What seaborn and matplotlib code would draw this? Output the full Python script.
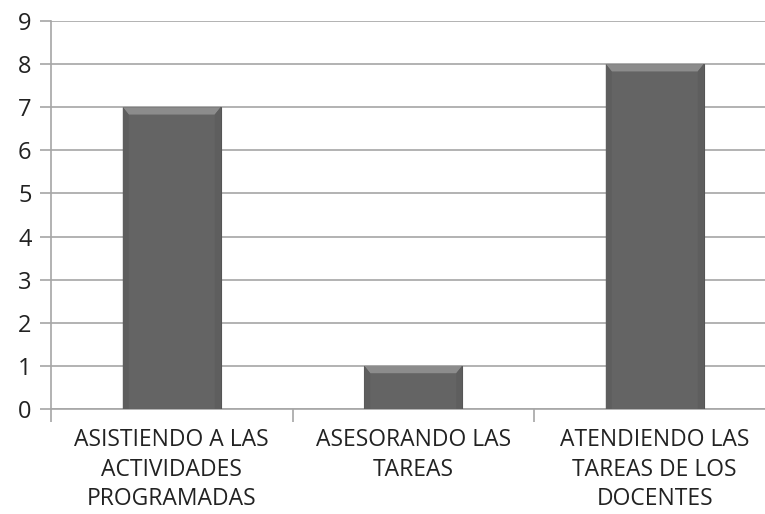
import matplotlib
matplotlib.use("Agg")
import matplotlib.pyplot as plt
import seaborn as sns
import pandas as pd
from matplotlib.patches import Polygon

categories = ["ASISTIENDO A LAS\nACTIVIDADES\nPROGRAMADAS",
              "ASESORANDO LAS\nTAREAS",
              "ATENDIENDO LAS\nTAREAS DE LOS\nDOCENTES"]
values = [7, 1, 8]
yticks = list(range(0, 10))

sns.set_theme(style="white")
plt.rcParams['font.family'] = ['Open Sans', 'DejaVu Sans']

df = pd.DataFrame({"cat": categories, "val": values})

fig = plt.figure(figsize=(7.65, 5.14), dpi=100)
ax = fig.add_axes([51/765, 105/514, 724.5/765, 388/514])
sns.barplot(data=df, x="cat", y="val", color="#646464", width=0.405,
            edgecolor="#555555", linewidth=0.8, saturation=1, ax=ax, zorder=3)

# bevel highlight on top of each bar
for p in ax.patches:
    x0, y0 = p.get_x(), p.get_y()
    w, h = p.get_width(), p.get_height()
    dx = w * 0.06
    dy = 0.17
    top = y0 + h
    ax.add_patch(Polygon([[x0, top], [x0 + w, top], [x0 + w - dx, top - dy], [x0 + dx, top - dy]],
                         closed=True, facecolor="#8c8c8c", edgecolor="none", zorder=4))
    ax.add_patch(Polygon([[x0, top], [x0 + dx, top - dy], [x0 + dx, y0], [x0, y0]],
                         closed=True, facecolor="#5e5e5e", edgecolor="none", zorder=4))
    ax.add_patch(Polygon([[x0 + w, top], [x0 + w - dx, top - dy], [x0 + w - dx, y0], [x0 + w, y0]],
                         closed=True, facecolor="#5e5e5e", edgecolor="none", zorder=4))

ax.set_ylim(0, 9)
ax.set_xlim(-0.5, 2.5)
ax.set_yticks(yticks)
ax.set_yticklabels([str(t) for t in yticks], fontsize=17, color="#222222")
ax.yaxis.grid(True, color="#a6a6a6", linewidth=1.2, zorder=0)
ax.set_axisbelow(True)
ax.set_xlabel("")
ax.set_ylabel("")
ax.tick_params(axis="x", labelsize=16.5, labelcolor="#222222", length=0, pad=14)
ax.tick_params(axis="y", length=8, width=1.2, color="#a6a6a6", left=True, pad=6)

# category boundary ticks
ax.set_xticks([-0.5, 0.5, 1.5], minor=True)
ax.tick_params(axis="x", which="minor", length=9, width=1.2, color="#a6a6a6", bottom=True)
for lbl in ax.get_xticklabels():
    lbl.set_linespacing(1.3)

for s in ["top", "right"]:
    ax.spines[s].set_visible(False)
ax.spines["left"].set_color("#a6a6a6")
ax.spines["left"].set_linewidth(1.2)
ax.spines["bottom"].set_color("#a6a6a6")
ax.spines["bottom"].set_linewidth(1.2)

fig.savefig("out.png", dpi=100, facecolor="white")
